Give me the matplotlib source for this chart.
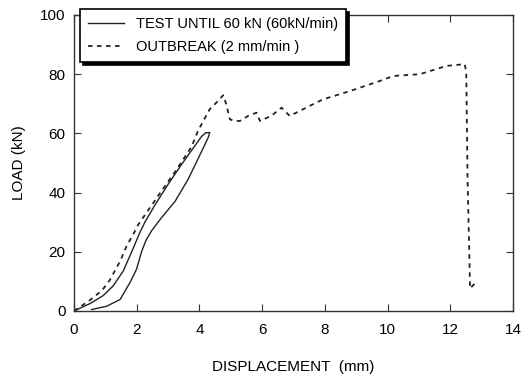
import matplotlib.pyplot as plt

plt.rcParams['font.family'] = ['Liberation Sans', 'DejaVu Sans']

# solid: load up to 60 kN then unload (loop)
test_x = [0.0, 0.51, 0.93, 1.25, 1.57, 1.84, 2.1, 2.26, 2.58, 3.0, 3.43, 3.8, 4.07, 4.2, 4.33,
          4.28, 3.96, 3.64, 3.22, 2.79, 2.48, 2.3, 2.16, 1.99, 1.78, 1.47, 1.04, 0.56]
test_y = [0.0, 2.5, 5.2, 8.5, 13.5, 20.0, 26.5, 30.0, 35.8, 42.8, 49.5, 55.0, 59.0, 60.2, 60.3,
          58.6, 51.5, 44.5, 37.0, 31.5, 27.2, 24.0, 20.2, 14.0, 9.5, 3.9, 1.6, 0.5]

# dashed: test until failure
out_x = [0.0, 0.5, 0.9, 1.15, 1.47, 1.68, 1.89, 2.05, 2.69, 3.22, 3.75, 3.96, 4.33, 4.55,
         4.76, 4.85, 4.97, 5.1, 5.29, 5.55, 5.82, 5.93, 6.3, 6.62, 6.88, 7.52, 7.94, 8.8,
         9.75, 10.18, 11.03, 11.88, 12.46, 12.51, 12.55, 12.62, 12.63, 12.8]
out_y = [0.0, 3.6, 7.0, 10.6, 16.8, 22.0, 25.9, 29.2, 39.0, 47.0, 55.5, 61.0, 68.2, 70.5,
         72.9, 70.0, 64.8, 64.2, 64.2, 65.9, 67.0, 64.2, 66.0, 68.7, 65.9, 69.3, 71.5, 74.3,
         77.7, 79.4, 80.0, 82.8, 83.4, 80.6, 45.0, 13.0, 7.6, 9.5]

x_ticks = [0, 2, 4, 6, 8, 10, 12, 14]
y_ticks = [0, 20, 40, 60, 80, 100]

fig = plt.figure(figsize=(5.22, 3.79), dpi=100)
ax = fig.add_axes([74 / 522, 1 - 311 / 379, 439 / 522, 296 / 379])

ax.plot(test_x, test_y, color='#222222', lw=1.0, label='TEST UNTIL 60 kN (60kN/min)')
ax.plot(out_x, out_y, color='#222222', lw=1.3, ls=(0, (2.5, 2.5)),
        label='OUTBREAK (2 mm/min )')

ax.set_xlim(0, 14)
ax.set_ylim(0, 100)
ax.set_xticks(x_ticks)
ax.set_yticks(y_ticks)
ax.tick_params(direction='in', top=True, right=True, length=5, labelsize=11,
               color='#333333')
ax.tick_params(axis='x', pad=9)
ax.tick_params(axis='y', pad=6)
for s in ax.spines.values():
    s.set_color('#333333')
    s.set_linewidth(1.0)

ax.set_xlabel('DISPLACEMENT  (mm)', fontsize=11, labelpad=16)
ax.set_ylabel('LOAD (kN)', fontsize=11, labelpad=10)

leg = ax.legend(loc='upper left', bbox_to_anchor=(80 / 522, 1 - 9 / 379),
                bbox_transform=fig.transFigure, fontsize=10.5, fancybox=False,
                shadow={'color': 'black', 'alpha': 1}, framealpha=1, edgecolor='black',
                borderpad=0.55, handlelength=2.5, handletextpad=0.8, labelspacing=0.6,
                borderaxespad=0)
leg.get_frame().set_linewidth(1.2)

fig.savefig('out.png', dpi=100)
